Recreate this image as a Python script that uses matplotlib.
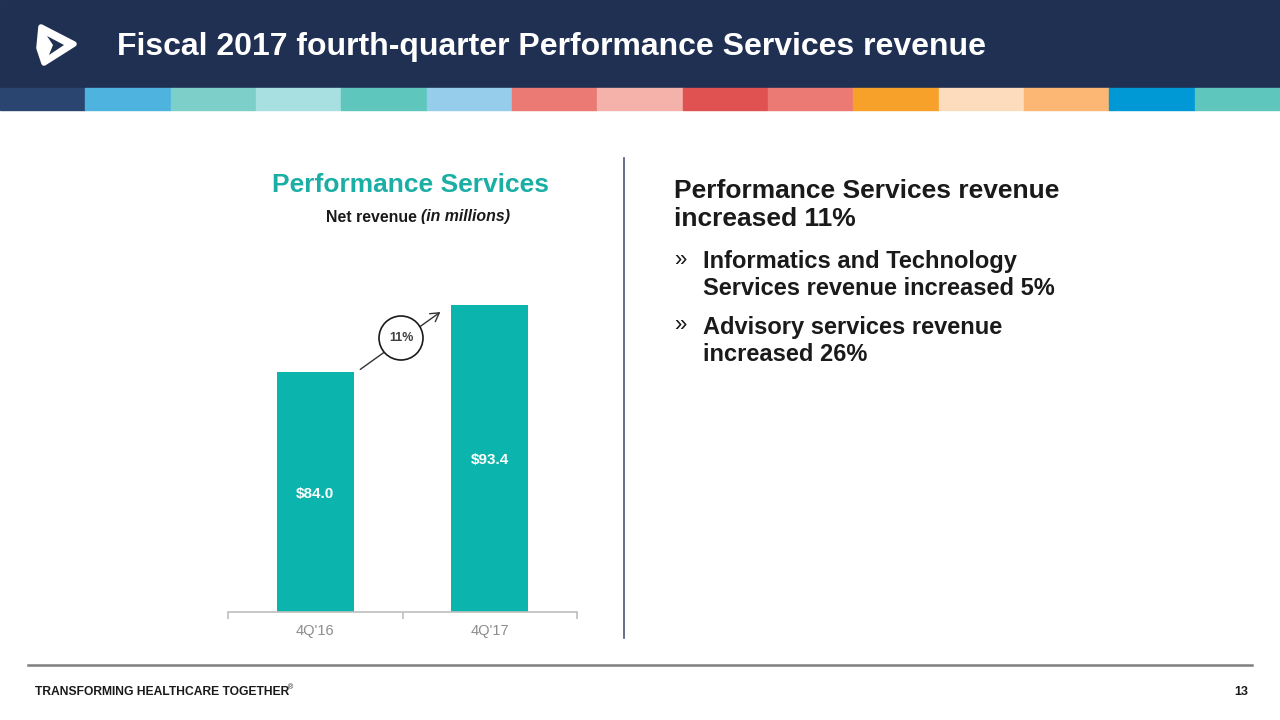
import matplotlib
matplotlib.use("Agg")
import matplotlib.pyplot as plt
from matplotlib.patches import Rectangle, Polygon, Circle, FancyArrowPatch

plt.rcParams['font.family'] = ['Liberation Sans', 'DejaVu Sans']

# data
categories = ["4Q'16", "4Q'17"]
revenue = [84.0, 93.4]
value_labels = ["$84.0", "$93.4"]
growth_label = "11%"

title = "Fiscal 2017 fourth-quarter Performance Services revenue"
strip_colors = ["#2a4570", "#4fb3e0", "#7dcfc9", "#a8dfe0", "#5fc6be",
                "#96cdea", "#ea7a73", "#f5b2aa", "#e05252", "#ea7a73",
                "#f7a12b", "#fddcbd", "#fdb774", "#0099d6", "#5fc6be"]
bullets = ["Informatics and Technology\nServices revenue increased 5%",
           "Advisory services revenue\nincreased 26%"]

W, H = 1280, 720
fig = plt.figure(figsize=(12.8, 7.2), dpi=100)

def fx(x):
    return x / W

def fy(y):
    return 1 - y / H

# header band
fig.patches.append(Rectangle((0, fy(88)), 1, 88 / H, transform=fig.transFigure,
                             color="#1f3052", zorder=0))
seg = W / len(strip_colors)
for i, c in enumerate(strip_colors):
    fig.patches.append(Rectangle((fx(i * seg), fy(110)), seg / W, 22 / H,
                                 transform=fig.transFigure, color=c, zorder=0))

# logo (rough)
logo = Polygon([(fx(41), fy(27)), (fx(74), fy(44)), (fx(44), fy(63)),
                (fx(39), fy(48))], closed=True, transform=fig.transFigure,
               facecolor="white", edgecolor="white", lw=4, joinstyle="round")
fig.patches.append(logo)
inner = Polygon([(fx(47), fy(36)), (fx(64), fy(45)), (fx(49), fy(55)),
                 (fx(53), fy(45))], closed=True,
                transform=fig.transFigure, facecolor="#1f3052", edgecolor="none")
fig.patches.append(inner)

fig.text(fx(117), fy(47), title, color="white", fontsize=23, fontweight="bold",
         va="center", ha="left")

# chart
ax_left, ax_right = 228, 577
ax_bottom = 612
ymin, ymax = 50.3, 97.0
px_per_unit = 7.13
ax_top = ax_bottom - (ymax - ymin) * px_per_unit
ax = fig.add_axes([fx(ax_left), fy(ax_bottom), (ax_right - ax_left) / W,
                   (ax_bottom - ax_top) / H])
x = list(range(len(categories)))
bars = ax.bar(x, revenue, width=0.44, color="#0bb5ad", bottom=0)
ax.set_xlim(-0.5, 1.5)
ax.set_ylim(ymin, ymax)
for xi, v, lab in zip(x, revenue, value_labels):
    ax.text(xi, (ymin + v) / 2 - 0.3, lab, color="white", fontsize=11,
            fontweight="bold", ha="center", va="center")
for s in ["top", "right", "left"]:
    ax.spines[s].set_visible(False)
ax.spines["bottom"].set_color("#bfbfbf")
ax.spines["bottom"].set_linewidth(1.2)
ax.set_yticks([])
ax.set_xticks([-0.5, 0.5, 1.5], minor=True)
ax.tick_params(axis="x", which="minor", length=5, color="#bfbfbf", width=1.2)
ax.tick_params(axis="x", which="major", length=0, pad=9, labelsize=10.5,
               labelcolor="#8c8c8c")
ax.set_xticks(x)
ax.set_xticklabels(categories)

# growth arrow + circle
arr = FancyArrowPatch((0.245, revenue[0] + 0.1), (0.73, revenue[1] - 0.8),
                      arrowstyle="->,head_length=6,head_width=3.5",
                      color="#333333", lw=1.0, mutation_scale=1)
ax.add_patch(arr)
fig.patches.append(Circle((401, H - 338), 22, transform=None, facecolor="white",
                          edgecolor="#1a1a1a", lw=1.2, zorder=5))
fig.text(fx(401), fy(338), growth_label, fontsize=9, fontweight="bold",
         color="#404040", ha="center", va="center", zorder=6)

# chart titles
fig.text(fx(410), fy(185), "Performance Services", color="#1aaea5", fontsize=19,
         fontweight="bold", ha="center", va="center")
fig.text(fx(421), fy(217), "Net revenue ", color="#1a1a1a", fontsize=11.4,
         fontweight="bold", ha="right", va="center")
fig.text(fx(421), fy(217), "(in millions)", color="#1a1a1a", fontsize=11.4,
         fontweight="bold", style="italic", ha="left", va="center")

# divider
fig.add_artist(plt.Line2D([fx(624), fx(624)], [fy(158), fy(638)],
                          transform=fig.transFigure, color="#4a5678", lw=1.2))

# right side text
fig.text(fx(674), fy(205), "Performance Services revenue\nincreased 11%",
         fontsize=19, fontweight="bold", color="#1a1a1a", ha="left", va="center",
         linespacing=1.25)
for yc, b in zip([275, 341], bullets):
    fig.text(fx(674), fy(yc - 15), "»", fontsize=16, color="#1a1a1a",
             ha="left", va="center")
    fig.text(fx(703), fy(yc), b, fontsize=17, fontweight="bold",
             color="#1a1a1a", ha="left", va="center", linespacing=1.23)

# footer
fig.add_artist(plt.Line2D([fx(28), fx(1252)], [fy(665), fy(665)],
                          transform=fig.transFigure, color="#7f7f7f", lw=1.8))
fig.text(fx(35), fy(692), "TRANSFORMING HEALTHCARE TOGETHER", fontsize=8.7,
         fontweight="bold", color="#1a1a1a", ha="left", va="center")
fig.text(fx(288), fy(688), "®", fontsize=5, color="#1a1a1a", ha="left",
         va="center")
fig.text(fx(1248), fy(692), "13", fontsize=9, fontweight="bold", color="#1a1a1a",
         ha="right", va="center")

fig.savefig("out.png", dpi=100)
